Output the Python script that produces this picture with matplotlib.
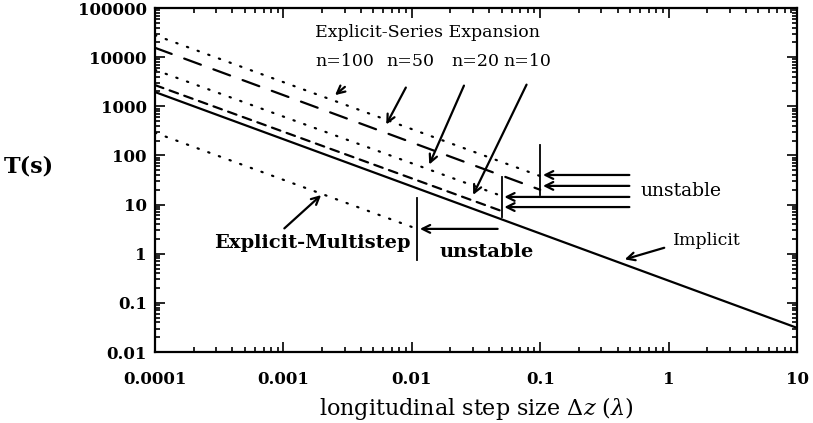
import numpy as np
import matplotlib
matplotlib.use("Agg")
import matplotlib.pyplot as plt
from matplotlib.ticker import FixedLocator, LogLocator, NullFormatter
from matplotlib.transforms import ScaledTranslation

# step size end points (lambda) and computing time T (s)
implicit_dz = [1e-4, 10.0]
implicit_t = [1950.0, 0.031]

series_n = ["n=100", "n=50", "n=20", "n=10"]
series_dz_end = [0.1, 0.1, 0.05, 0.05]
series_t_start = [28000.0, 15500.0, 5500.0, 2700.0]
series_t_end = [38.0, 20.0, 15.0, 7.4]
series_style = [(0, (0.6, 4.5)), (0, (8, 6)), (0, (0.6, 4.5)), (0, (4, 3))]

multistep_dz = [1e-4, 0.011]
multistep_t = [290.0, 3.2]

# stability limits (vertical bars)
bar_dz = [0.1, 0.05, 0.011]
bar_t_low = [15.6, 5.6, 0.74]
bar_t_high = [163.0, 36.0, 13.6]

# "unstable" arrows
unstable_t = [40.0, 24.0, 14.3, 8.9]
unstable_target = [0.1, 0.1, 0.05, 0.05]
unstable_tail_dz = 0.52

xticks = [1e-4, 1e-3, 1e-2, 1e-1, 1, 10]
xtick_labels = ["0.0001", "0.001", "0.01", "0.1", "1", "10"]
yticks = [0.01, 0.1, 1, 10, 100, 1000, 10000, 100000]
ytick_labels = ["0.01", "0.1", "1", "10", "100", "1000", "10000", "100000"]

plt.rcParams["font.family"] = ["DejaVu Serif"]
plt.rcParams["mathtext.fontset"] = "dejavuserif"

fig = plt.figure(figsize=(8.13, 4.23), dpi=100)
ax = fig.add_axes([155 / 813, 71 / 423, 642 / 813, 344 / 423])
ax.set_xscale("log")
ax.set_yscale("log")
ax.set_xlim(1e-4, 10)
ax.set_ylim(0.01, 1e5)

ax.plot(implicit_dz, implicit_t, color="black", lw=1.6)
for name, dz_end, t0, t1, ls in zip(series_n, series_dz_end, series_t_start,
                                    series_t_end, series_style):
    ax.plot([1e-4, dz_end], [t0, t1], color="black", lw=1.6, linestyle=ls,
            dash_capstyle="round")
ax.plot(multistep_dz, multistep_t, color="black", lw=1.6,
        linestyle=(0, (0.6, 4.5)), dash_capstyle="round")

for dz, lo, hi in zip(bar_dz, bar_t_low, bar_t_high):
    ax.plot([dz, dz], [lo, hi], color="black", lw=1.3)

arrow = dict(arrowstyle="->", color="black", lw=1.6, mutation_scale=14)
for t, target in zip(unstable_t, unstable_target):
    ax.annotate("", xy=(target, t), xytext=(unstable_tail_dz, t), arrowprops=arrow)
ax.annotate("", xy=(0.011, 3.2), xytext=(0.049, 3.2), arrowprops=arrow)

ax.text(0.6, 19, "unstable", fontsize=13.5, ha="left", va="center")
ax.text(0.038, 1.07, "unstable", fontsize=14, fontweight="bold",
        ha="center", va="center")

ax.text(0.0132, 31000, "Explicit-Series Expansion", fontsize=12.5,
        ha="center", va="center")
ax.text(0.0030, 8000, "n=100", fontsize=12.5, ha="center", va="center")
ax.text(0.0097, 8000, "n=50", fontsize=12.5, ha="center", va="center")
ax.text(0.0315, 8000, "n=20", fontsize=12.5, ha="center", va="center")
ax.text(0.080, 8000, "n=10", fontsize=12.5, ha="center", va="center")

ax.annotate("", xy=(0.00243, 1550), xytext=(0.00313, 2700), arrowprops=arrow)
ax.annotate("", xy=(0.00618, 380), xytext=(0.0092, 2700), arrowprops=arrow)
ax.annotate("", xy=(0.0134, 58), xytext=(0.026, 2970), arrowprops=arrow)
ax.annotate("", xy=(0.0294, 14), xytext=(0.080, 3100), arrowprops=arrow)

ax.text(0.0097, 1.65, "Explicit-Multistep", fontsize=14, fontweight="bold",
        ha="right", va="center")
ax.annotate("", xy=(0.00204, 17), xytext=(0.00098, 3.0), arrowprops=arrow)

ax.text(1.08, 1.9, "Implicit", fontsize=12.5, ha="left", va="center")
ax.annotate("", xy=(0.434, 0.74), xytext=(0.97, 1.37), arrowprops=arrow)

ax.xaxis.set_major_locator(FixedLocator(xticks))
ax.set_xticklabels(xtick_labels, fontweight="bold", fontsize=12)
ax.yaxis.set_major_locator(FixedLocator(yticks))
ax.set_yticklabels(ytick_labels, fontweight="bold", fontsize=12)
shift = ScaledTranslation(0, -4 / 72, fig.dpi_scale_trans)
for label in ax.get_yticklabels():
    label.set_transform(label.get_transform() + shift)
for axis in (ax.xaxis, ax.yaxis):
    axis.set_minor_locator(LogLocator(base=10, subs=np.arange(2, 10), numticks=20))
    axis.set_minor_formatter(NullFormatter())
ax.tick_params(which="both", direction="in", top=True, right=True, width=1.2)
ax.tick_params(which="major", length=7)
ax.tick_params(which="minor", length=3.5)
ax.tick_params(axis="x", which="major", pad=14)
ax.tick_params(axis="y", which="major", pad=6)
for spine in ax.spines.values():
    spine.set_linewidth(1.6)

ax.set_xlabel(r"longitudinal step size $\Delta z$ $(\lambda)$", fontsize=16, labelpad=5)
fig.text(29 / 813, 1 - 166 / 423, "T(s)", fontsize=16, fontweight="bold",
         ha="center", va="center")

fig.savefig("out.png", dpi=100)
